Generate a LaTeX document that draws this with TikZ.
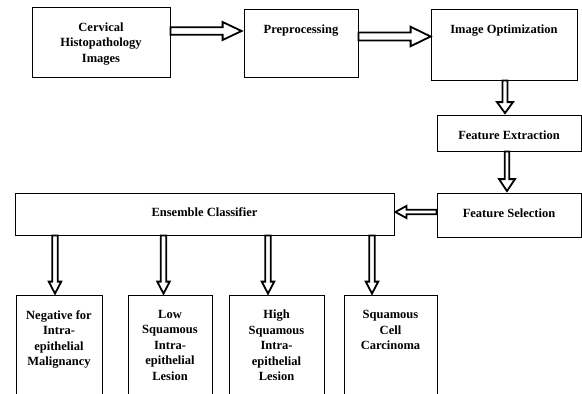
\documentclass[tikz,border=0pt]{standalone}
\usepackage{fontspec}
\setmainfont{Liberation Serif}
\usetikzlibrary{calc}

% text block of a stage box: width, height, space above the first line, text
\newcommand\stagetext[4]{\parbox[c][#2][t]{#1}{\vspace*{#3}\centering #4\par}}

\tikzset{
  x=1pt, y=-1pt,
  stage/.style={draw=black, line width=0.8pt, inner sep=0pt, fill=white,
    font=\fontsize{12.5}{15.5}\selectfont\bfseries},
  % hollow block arrow: shaft width, head width, head length
  shaftw/.store in=\baShaft, headw/.store in=\baHead, headl/.store in=\baLen,
  shaftw=6pt, headw=14pt, headl=12pt,
  hollow/.style={draw=black, line width=1.8pt, line join=miter, fill=white,
    to path={
      let \p1=(\tikztostart), \p2=(\tikztotarget),
          \n1={atan2(\y2-\y1,\x2-\x1)} in
      ($(\p1)+({\n1+90}:{0.5*\baShaft})$)
      -- ($(\p2)+(\n1:-\baLen)+({\n1+90}:{0.5*\baShaft})$)
      -- ($(\p2)+(\n1:-\baLen)+({\n1+90}:{0.5*\baHead})$)
      -- (\p2)
      -- ($(\p2)+(\n1:-\baLen)+({\n1-90}:{0.5*\baHead})$)
      -- ($(\p2)+(\n1:-\baLen)+({\n1-90}:{0.5*\baShaft})$)
      -- ($(\p1)+({\n1-90}:{0.5*\baShaft})$)
      -- cycle}},
}

\begin{document}
\begin{tikzpicture}
\useasboundingbox (0,0) rectangle (582,394);
\clip (0,0) rectangle (582,394);

% pipeline stages
\node[stage] (cerv) at (101,42)
  {\stagetext{138pt}{70pt}{15.5pt}{Cervical\\Histopathology\\Images}};
\node[stage] (prep) at (301,43)
  {\stagetext{114pt}{68pt}{15.5pt}{Preprocessing}};
\node[stage] (opt) at (504,44.5)
  {\stagetext{146pt}{71pt}{15.5pt}{Image Optimization}};
\node[stage] (fext) at (509,133)
  {\stagetext{144pt}{36pt}{16pt}{Feature Extraction}};
\node[stage] (fsel) at (509,215)
  {\stagetext{144pt}{44pt}{15.5pt}{Feature Selection}};
\node[stage] (ens) at (204.5,214)
  {\stagetext{379pt}{42pt}{14.8pt}{Ensemble Classifier}};

% output classes (boxes run past the lower edge)
\node[stage] (c1) at (59,350)
  {\stagetext{86pt}{110pt}{15.3pt}{Negative for\\Intra-\\epithelial\\Malignancy}};
\node[stage] (c2) at (170,350)
  {\stagetext{84pt}{110pt}{15.3pt}{Low\\Squamous\\Intra-\\epithelial\\Lesion}};
\node[stage] (c3) at (276.5,350)
  {\stagetext{95pt}{110pt}{15.3pt}{High\\Squamous\\Intra-\\epithelial\\Lesion}};
\node[stage] (c4) at (390.5,350)
  {\stagetext{93pt}{110pt}{15.3pt}{Squamous\\Cell\\Carcinoma}};

% flow arrows
\draw[hollow, shaftw=7.5pt, headw=18pt, headl=19pt]
  ([yshift=11pt]cerv.east) to ([xshift=-2pt,yshift=12pt]prep.west);
\draw[hollow, shaftw=8pt, headw=19.5pt, headl=20pt]
  ([yshift=6.5pt]prep.east) to ([yshift=8pt]opt.west);
\draw[hollow, shaftw=5pt, headw=16pt, headl=11pt]
  ([xshift=1pt]opt.south) to ([xshift=-4pt,yshift=1.5pt]fext.north);
\draw[hollow, shaftw=4.5pt, headw=16pt, headl=12pt]
  ([xshift=-2pt]fext.south) to ([xshift=-2pt,yshift=1.5pt]fsel.north);
\draw[hollow, shaftw=4.5pt, headw=12pt, headl=11pt]
  ([yshift=3pt]fsel.west) to ([xshift=1pt,yshift=2pt]ens.east);

\coordinate (t1) at ([xshift=-4pt,yshift=1pt]c1.north);
\coordinate (t2) at ([xshift=-6.5pt,yshift=1pt]c2.north);
\coordinate (t3) at ([xshift=-8.5pt,yshift=1pt]c3.north);
\coordinate (t4) at ([xshift=-18.5pt,yshift=1pt]c4.north);
\foreach \t in {t1,t2,t3,t4}
  \draw[hollow, shaftw=5.5pt, headw=12.5pt, headl=12pt]
    (\t |- ens.south) to (\t);
\end{tikzpicture}
\end{document}
